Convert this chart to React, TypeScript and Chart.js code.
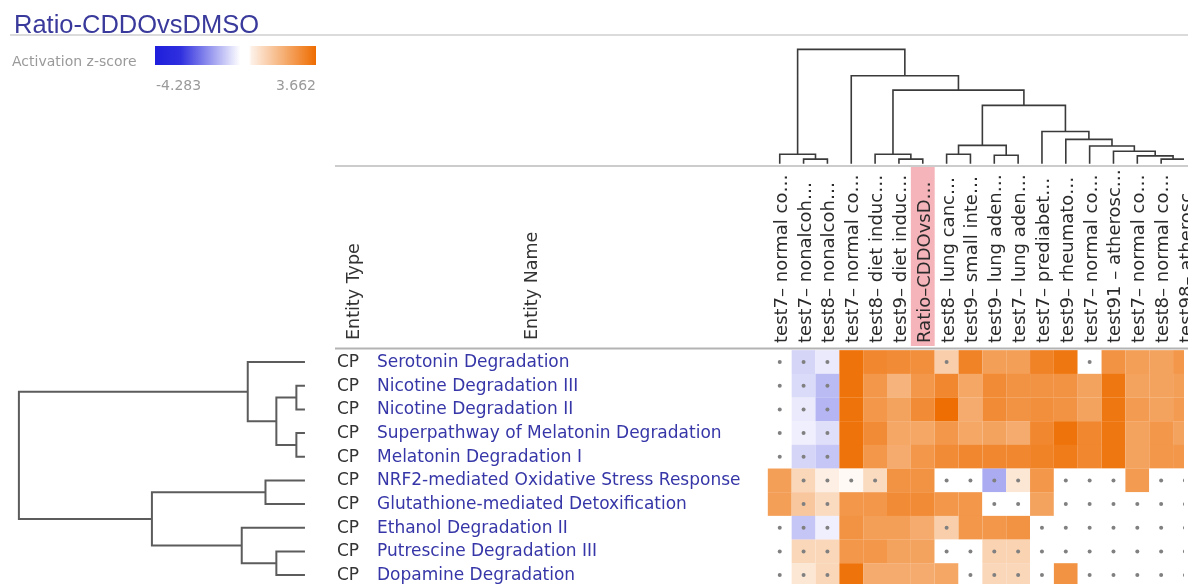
import { useEffect, useRef } from "react";
import { Chart, registerables } from "chart.js";

Chart.register(...registerables);

// ---------- data ----------
const title = "Ratio-CDDOvsDMSO";
const legendLabel = "Activation z-score";
const zMin = -4.283;
const zMax = 3.662;
const significanceThreshold = 1.7;

const columnLabels = [
  "test7– normal co…",
  "test7– nonalcoh…",
  "test8– nonalcoh…",
  "test7– normal co…",
  "test8– diet induc…",
  "test9– diet induc…",
  "Ratio–CDDOvsD…",
  "test8– lung canc…",
  "test9– small inte…",
  "test9– lung aden…",
  "test7– lung aden…",
  "test7– prediabet…",
  "test9– rheumato…",
  "test7– normal co…",
  "test91 – atherosc…",
  "test7– normal co…",
  "test8– normal co…",
  "test98– atherosc…",
];
const highlightedColumn = 6;

const entityTypes = ["CP", "CP", "CP", "CP", "CP", "CP", "CP", "CP", "CP", "CP"];
const entityNames = [
  "Serotonin Degradation",
  "Nicotine Degradation III",
  "Nicotine Degradation II",
  "Superpathway of Melatonin Degradation",
  "Melatonin Degradation I",
  "NRF2-mediated Oxidative Stress Response",
  "Glutathione-mediated Detoxification",
  "Ethanol Degradation II",
  "Putrescine Degradation III",
  "Dopamine Degradation",
];

const serotoninDegradation = [0, -0.8, -0.4, 3.5, 3.0, 2.9, 2.8, 1.2, 3.1, 2.4, 2.4, 3.1, 3.4, 0, 2.7, 2.4, 2.3, 2.6];
const nicotineDegradationIII = [0, -0.7, -1.3, 3.5, 2.6, 1.9, 2.6, 3.0, 2.2, 2.9, 2.7, 2.7, 2.7, 2.3, 3.4, 2.3, 2.3, 2.4];
const nicotineDegradationII = [0, -0.4, -1.4, 3.5, 2.6, 2.3, 2.9, 3.6, 2.1, 2.9, 2.7, 2.8, 2.7, 2.3, 3.4, 2.5, 2.3, 2.5];
const melatoninSuperpathway = [0, -0.3, -0.6, 3.5, 2.9, 2.2, 2.2, 2.6, 2.2, 2.3, 2.1, 3.0, 3.5, 3.0, 3.4, 2.3, 2.6, 2.3];
const melatoninDegradationI = [0, -0.8, -1.1, 3.5, 2.6, 2.1, 2.6, 2.9, 3.0, 3.0, 3.0, 3.1, 3.3, 3.0, 3.4, 2.3, 2.6, 2.6];
const nrf2Response = [2.4, 1.0, 0.4, 0.15, 0.9, 2.7, 2.7, 0, 0, -1.6, 0.6, 2.6, 0, 0, 0, 2.5, 0, 0];
const glutathioneDetox = [2.4, 1.4, 0.9, 2.6, 2.6, 2.9, 2.9, 2.6, 2.6, 0, 0, 2.3, 0, 0, 0, 0, 0, 0];
const ethanolDegradationII = [0, -1.1, -0.3, 2.7, 2.4, 2.4, 2.1, 1.2, 2.6, 2.6, 2.7, 0, 0, 0, 0, 0, 0, 0];
const putrescineDegradationIII = [0, 1.0, 1.0, 2.6, 2.6, 2.3, 2.3, 0, 0, 1.1, 1.1, 0, 0, 0, 0, 0, 0, 0];
const dopamineDegradation = [0, 0.6, 1.0, 3.5, 2.1, 2.1, 2.1, 2.2, 0, 1.0, 1.0, 0, 2.7, 0, 0, 0, 0, 0];

const zScores = [
  serotoninDegradation,
  nicotineDegradationIII,
  nicotineDegradationII,
  melatoninSuperpathway,
  melatoninDegradationI,
  nrf2Response,
  glutathioneDetox,
  ethanolDegradationII,
  putrescineDegradationIII,
  dopamineDegradation,
];

// linkage: [childA, childB, height]; leaves 0..n-1, merge k gets id n+k
const rowLinkage: [number, number, number][] = [
  [1, 2, 0.3],
  [3, 4, 0.3],
  [10, 11, 1.0],
  [0, 12, 2.0],
  [5, 6, 1.38],
  [8, 9, 1.0],
  [7, 15, 2.21],
  [14, 16, 5.35],
  [13, 17, 10],
];
const columnLinkage: [number, number, number][] = [
  [1, 2, 0.41],
  [0, 18, 0.84],
  [5, 6, 0.41],
  [4, 20, 0.84],
  [7, 8, 0.84],
  [9, 10, 0.75],
  [22, 23, 1.61],
  [16, 17, 0.41],
  [15, 25, 0.69],
  [14, 26, 1.09],
  [13, 27, 1.55],
  [12, 28, 2.13],
  [11, 29, 2.82],
  [24, 30, 5.11],
  [21, 31, 6.44],
  [3, 32, 7.7],
  [19, 33, 10],
];

// ---------- layout ----------
const W = 1188;
const H = 588;
const CELL = 24;
const HEAT_LEFT = 769;
const HEAT_TOP = 351;
const ROW_TREE_LEAF = 303;
const ROW_TREE_PX = 28.8;
const COL_TREE_LEAF = 162;
const COL_TREE_PX = 11.6;

const ORANGE = [238, 108, 0];
const BLUE = [30, 30, 220];

function zColor(z: number) {
  const end = z >= 0 ? ORANGE : BLUE;
  const t = Math.min(1, z >= 0 ? z / zMax : z / zMin);
  const c = end.map((v) => Math.round(255 + (v - 255) * t));
  return `rgb(${c[0]},${c[1]},${c[2]})`;
}

function linkSegments(linkage: [number, number, number][], nLeaves: number) {
  const pos: number[] = [];
  const hgt: number[] = [];
  for (let i = 0; i < nLeaves; i++) {
    pos[i] = i;
    hgt[i] = 0;
  }
  return linkage.map(([a, b, h], k) => {
    const id = nLeaves + k;
    pos[id] = (pos[a] + pos[b]) / 2;
    hgt[id] = h;
    return [
      { p: pos[a], h: hgt[a] },
      { p: pos[a], h },
      { p: pos[b], h },
      { p: pos[b], h: hgt[b] },
    ];
  });
}

const FONT = '"DejaVu Sans", sans-serif';

const decorPlugin = {
  id: "decor",
  beforeDatasetsDraw(chart: any) {
    const ctx = chart.ctx;
    const xs = chart.scales.x;
    ctx.save();
    // highlight behind selected column header
    const l = xs.getPixelForValue(highlightedColumn - 0.5);
    const r = xs.getPixelForValue(highlightedColumn + 0.5);
    ctx.fillStyle = "#f5b4b9";
    ctx.fillRect(l, 167, r - l, 179);
    // title underline
    ctx.strokeStyle = "#cfcfcf";
    ctx.lineWidth = 1.5;
    ctx.beginPath();
    ctx.moveTo(10, 35);
    ctx.lineTo(W, 35);
    ctx.stroke();
    // header lines
    ctx.strokeStyle = "#cccccc";
    ctx.lineWidth = 2;
    ctx.beginPath();
    ctx.moveTo(335, 166);
    ctx.lineTo(W, 166);
    ctx.stroke();
    ctx.strokeStyle = "#b3b3b3";
    ctx.beginPath();
    ctx.moveTo(335, 348.5);
    ctx.lineTo(W, 348.5);
    ctx.stroke();
    ctx.restore();
  },
  afterDatasetsDraw(chart: any) {
    const ctx = chart.ctx;
    const xs = chart.scales.x;
    const ys = chart.scales.y;
    ctx.save();
    // title
    ctx.fillStyle = "#3a3a9c";
    ctx.font = '25.5px "Liberation Sans", Arial, sans-serif';
    ctx.textBaseline = "alphabetic";
    ctx.textAlign = "left";
    ctx.fillText(title, 14, 33);
    // legend
    ctx.fillStyle = "#9a9a9a";
    ctx.font = `14px ${FONT}`;
    ctx.fillText(legendLabel, 12, 66);
    const g = ctx.createLinearGradient(155, 0, 316, 0);
    g.addColorStop(0, zColor(zMin));
    g.addColorStop(0.16, zColor(zMin * 0.92));
    g.addColorStop(0.53, "#ffffff");
    g.addColorStop(0.585, "#ffffff");
    g.addColorStop(0.6, zColor(zMax * 0.1));
    g.addColorStop(1, zColor(zMax));
    ctx.fillStyle = g;
    ctx.fillRect(155, 46, 161, 19);
    ctx.fillStyle = "#9a9a9a";
    ctx.font = `14px ${FONT}`;
    ctx.fillText(zMin.toFixed(3), 156, 90);
    ctx.textAlign = "right";
    ctx.fillText(zMax.toFixed(3), 316, 90);
    // header labels
    ctx.textAlign = "left";
    ctx.fillStyle = "#333333";
    ctx.font = `17.5px ${FONT}`;
    const rot = (text: string, x: number, y: number) => {
      ctx.save();
      ctx.translate(x, y);
      ctx.rotate(-Math.PI / 2);
      ctx.fillText(text, 0, 0);
      ctx.restore();
    };
    rot("Entity Type", 359, 340);
    rot("Entity Name", 537, 340);
    ctx.font = `18px ${FONT}`;
    ctx.fillStyle = "#2b2b2b";
    columnLabels.forEach((lab, i) => rot(lab, xs.getPixelForValue(i) + 7, 343));
    // row labels
    ctx.font = `17px ${FONT}`;
    entityNames.forEach((name, i) => {
      const py = ys.getPixelForValue(i) + 5;
      ctx.fillStyle = "#333333";
      ctx.fillText(entityTypes[i], 337, py);
      ctx.fillStyle = "#3636a8";
      ctx.fillText(name, 377, py);
    });
    ctx.restore();
  },
};

export default function App() {
  const ref = useRef<HTMLCanvasElement | null>(null);

  useEffect(() => {
    if (!ref.current) return;
    const cells: any[] = [];
    const cellColors: string[] = [];
    const dots: any[] = [];
    zScores.forEach((row, r) =>
      row.forEach((z, c) => {
        cells.push({ x: c, y: r });
        cellColors.push(zColor(z));
        if (Math.abs(z) < significanceThreshold) dots.push({ x: c, y: r });
      })
    );

    const rowSegs = linkSegments(rowLinkage, entityNames.length);
    const colSegs = linkSegments(columnLinkage, columnLabels.length);

    const treeDatasets: any[] = [
      ...rowSegs.map((seg) => ({
        type: "scatter",
        data: seg.map((s) => ({ x: s.h, y: s.p })),
        xAxisID: "xd",
        yAxisID: "y",
        showLine: true,
        borderColor: "#5c5c5c",
        borderWidth: 2,
        pointRadius: 0,
        fill: false,
        order: 2,
      })),
      ...colSegs.map((seg) => ({
        type: "scatter",
        data: seg.map((s) => ({ x: s.p, y: s.h })),
        xAxisID: "x",
        yAxisID: "yd",
        showLine: true,
        borderColor: "#3a3a3a",
        borderWidth: 1.6,
        pointRadius: 0,
        fill: false,
        order: 2,
      })),
    ];

    const xMin = -0.5 - HEAT_LEFT / CELL;
    const yMin = -0.5 - HEAT_TOP / CELL;
    const xdMax = ROW_TREE_LEAF / ROW_TREE_PX;
    const ydMax = COL_TREE_LEAF / COL_TREE_PX;
    const hidden = { display: false, bounds: "data" as const, grid: { display: false }, ticks: { display: false } };

    const chart = new Chart(ref.current, {
      type: "scatter",
      data: {
        datasets: [
          {
            data: dots,
            xAxisID: "x",
            yAxisID: "y",
            pointStyle: "circle",
            pointRadius: 2,
            backgroundColor: "#808080",
            borderWidth: 0,
            order: 0,
          },
          {
            data: cells,
            xAxisID: "x",
            yAxisID: "y",
            pointStyle: "rect",
            pointRadius: (c: any) => {
              const s = c.chart.scales.x;
              return Math.abs(s.getPixelForValue(1) - s.getPixelForValue(0)) / Math.SQRT2;
            },
            backgroundColor: cellColors,
            borderWidth: 0,
            order: 1,
          },
          ...treeDatasets,
        ] as any,
      },
      options: {
        animation: false,
        responsive: false,
        events: [],
        layout: { padding: 0 },
        plugins: { legend: { display: false }, tooltip: { enabled: false }, title: { display: false } },
        scales: {
          x: { ...hidden, type: "linear", min: xMin, max: xMin + W / CELL },
          y: { ...hidden, type: "linear", reverse: true, min: yMin, max: yMin + H / CELL },
          xd: {
            ...hidden,
            type: "linear",
            axis: "x",
            reverse: true,
            min: xdMax - W / ROW_TREE_PX,
            max: xdMax,
          },
          yd: {
            ...hidden,
            type: "linear",
            axis: "y",
            min: ydMax - H / COL_TREE_PX,
            max: ydMax,
          },
        } as any,
      },
      plugins: [decorPlugin],
    });
    return () => chart.destroy();
  }, []);

  return (
    <div style={{ position: "fixed", left: 0, top: 0, width: W, height: H, background: "#ffffff" }}>
      <canvas ref={ref} width={W} height={H} style={{ display: "block" }} />
    </div>
  );
}
